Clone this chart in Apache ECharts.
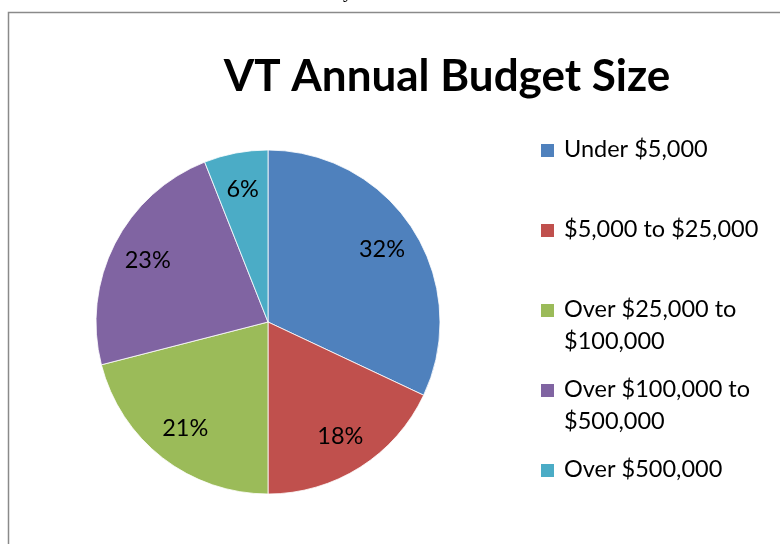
<!DOCTYPE html>
<html>
<head>
<meta charset="utf-8">
<script src="https://cdn.jsdelivr.net/npm/echarts@6/dist/echarts.min.js"></script>
<style>
  html, body { margin: 0; padding: 0; background: #fff; }
  #chart { width: 780px; height: 544px; }
</style>
</head>
<body>
<div id="chart"></div>
<script>
// data
var categories = ["Under $5,000", "$5,000 to $25,000", "Over $25,000 to\n$100,000", "Over $100,000 to\n$500,000", "Over $500,000"];
var shares = [32, 18, 21, 23, 6];
var colors = ["#4F81BD", "#C0504D", "#9BBB59", "#8064A2", "#4BACC6"];

var font = "Lato, 'Open Sans', sans-serif";
var pieData = categories.map(function (c, i) {
  return { name: c, value: shares[i] };
});

// one legend per entry so the rows keep Excel's even 80px step
var legends = [];
categories.forEach(function (c, i) {
  var y = 149 + 80 * i;
  // square only
  legends.push({
    data: [c], left: 539, top: y - 7, padding: 0,
    itemWidth: 15, itemHeight: 15, icon: "rect",
    formatter: function () { return ""; },
    textStyle: { fontSize: 10, lineHeight: 15 },
    selectedMode: false
  });
  // text only
  legends.push({
    data: [c], left: 559, top: y - 16, padding: 0,
    itemWidth: 0, itemHeight: 0, icon: "none",
    textStyle: { fontFamily: font, fontSize: 23.5, lineHeight: 32, color: "#000" },
    selectedMode: false
  });
});

var chart = echarts.init(document.getElementById("chart"));
var option = {
  backgroundColor: "#fff",
  color: colors,
  animation: false,
  title: {
    text: "VT Annual Budget Size",
    left: 442, top: 50, textAlign: "center",
    textStyle: { fontFamily: font, fontSize: 44, fontWeight: "bold", color: "#000" }
  },
  legend: legends,
  graphic: [
    {
      type: "rect", silent: true,
      shape: { x: 8.5, y: 12.5, width: 820, height: 600 },
      style: { fill: "none", stroke: "#8a8a8a", lineWidth: 1.5 }
    },
    {
      type: "text", silent: true, left: 343, top: -18,
      style: { text: "y", font: "20px 'Liberation Serif', serif", fill: "#000" }
    }
  ],
  series: [
    {
      type: "pie",
      center: [268, 322],
      radius: 172,
      startAngle: 90,
      clockwise: true,
      label: { show: false },
      labelLine: { show: false },
      itemStyle: { borderColor: "#fff", borderWidth: 0.8 },
      emphasis: { disabled: true },
      data: pieData
    },
    {
      // transparent ring, only to place the % labels at Excel's radius
      type: "pie",
      center: [268, 322],
      radius: [92, 172],
      startAngle: 90,
      clockwise: true,
      silent: true,
      percentPrecision: 0,
      itemStyle: { color: "rgba(0,0,0,0)", borderWidth: 0 },
      label: {
        show: true, position: "inside",
        formatter: "{d}%",
        fontFamily: font, fontSize: 23.5, color: "#000"
      },
      labelLine: { show: false },
      emphasis: { disabled: true },
      data: pieData
    }
  ]
};
chart.setOption(option);
</script>
</body>
</html>
